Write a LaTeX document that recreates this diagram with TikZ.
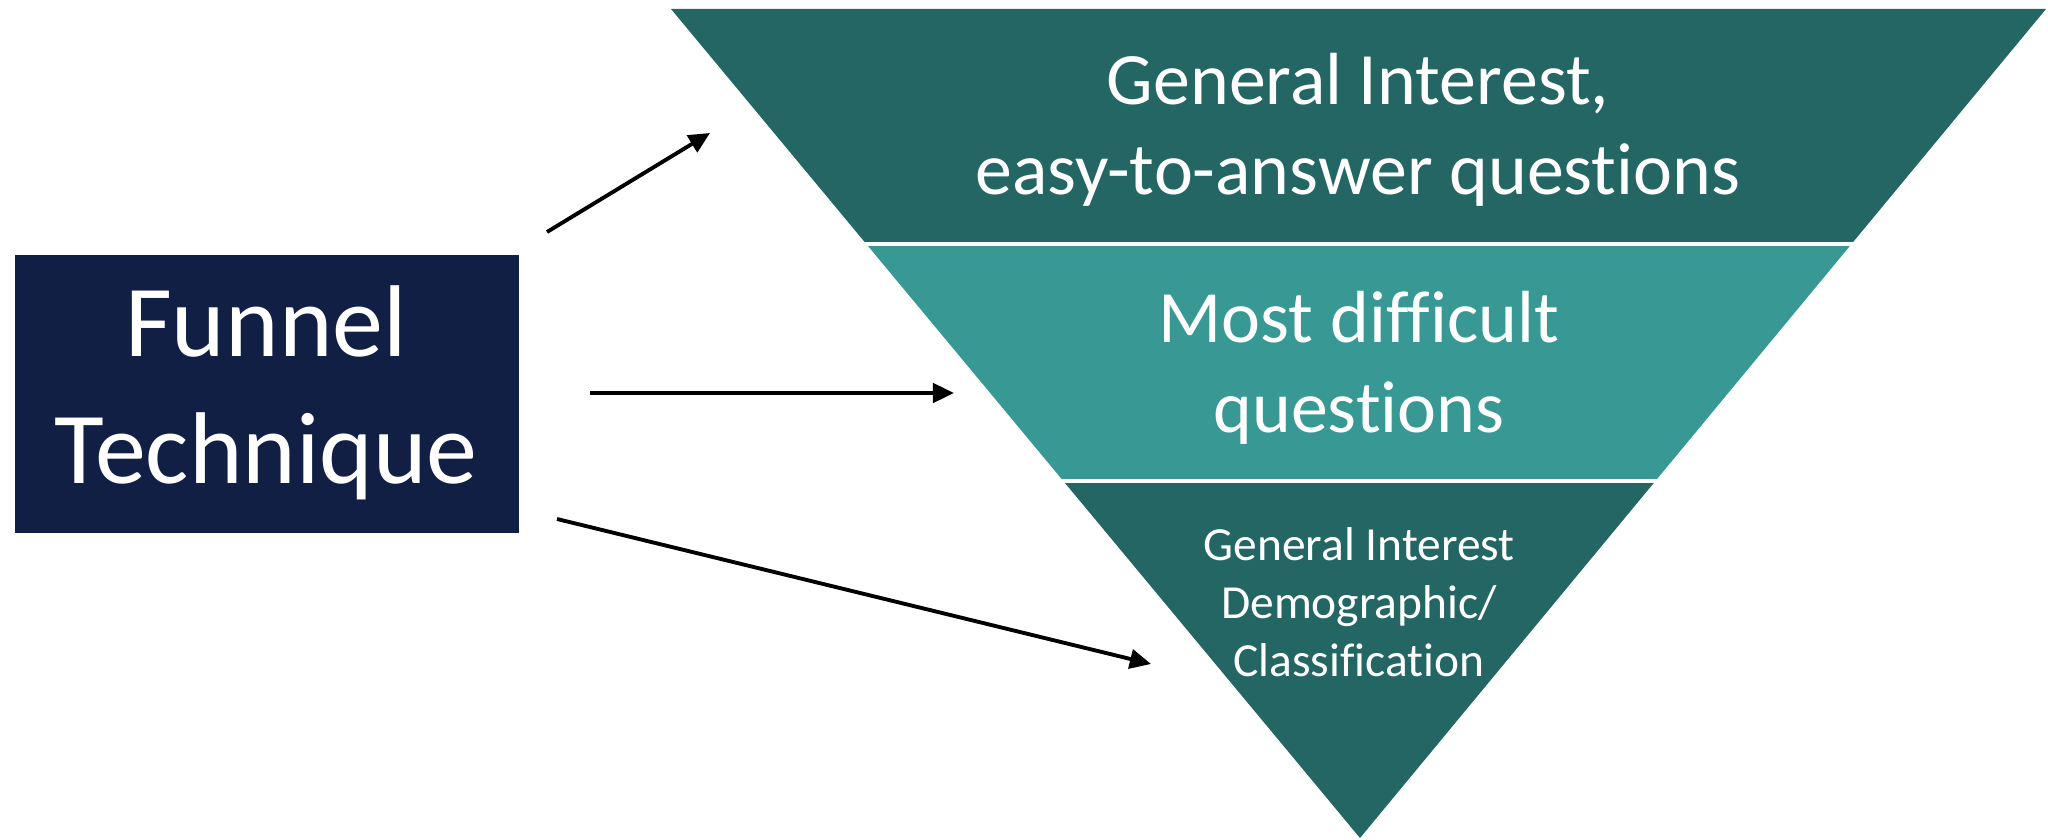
\documentclass[tikz,border=0pt]{standalone}
\usepackage{fontspec}
\setmainfont{Carlito}[Ligatures=CommonOff]
\usetikzlibrary{arrows.meta}
\definecolor{darkteal}{HTML}{246663}
\definecolor{lightteal}{HTML}{389894}
\definecolor{navy}{HTML}{121F45}
\tikzset{
  conn/.style={line width=1.1pt, -{Triangle[length=6pt,width=5.5pt]}},
  bandtext/.style={text=white, align=center, inner sep=0pt},
}
\begin{document}
\begin{tikzpicture}[x=0.01cm,y=-0.01cm]
\useasboundingbox (0,0) rectangle (2048,840);
% funnel bands
\fill[darkteal] (671,9) -- (2046,9) -- (1851.5,244) -- (866.3,244) -- cycle;
\fill[lightteal] (866.3,244) -- (1851.5,244) -- (1655.4,481) -- (1063.3,481) -- cycle;
\fill[darkteal] (1063.3,481) -- (1655.4,481) -- (1360,838) -- cycle;
\draw[white, line width=0.9pt] (860,244) -- (1858,244);
\draw[white, line width=0.9pt] (1058,481) -- (1661,481);
% box
\node[fill=navy, inner sep=0pt, anchor=north west,
      minimum width=5.04cm, minimum height=2.78cm] (box) at (14,254) {};
\node[bandtext, font=\fontsize{29}{36}\selectfont] (boxtext) at (266,393) {Funnel\\Technique};
% band texts
\node[bandtext, font=\fontsize{21}{25.5}\selectfont] (t1) at (1358,130) {General Interest,\\easy-to-answer questions};
\node[bandtext, font=\fontsize{21}{25.5}\selectfont] (t2) at (1359,368) {Most difficult\\questions};
\node[bandtext, font=\fontsize{13.5}{16.5}\selectfont] (t3) at (1359,602) {General Interest\\Demographic/\\Classification};
% connectors
\coordinate (a1s) at (547,232);
\coordinate (a1e) at (710,133);
\coordinate (a2s) at (590,393);
\coordinate (a2e) at (954,393);
\coordinate (a3s) at (557,519);
\coordinate (a3e) at (1151,664);
\draw[conn] (a1s) -- (a1e);
\draw[conn] (a2s) -- (a2e);
\draw[conn] (a3s) -- (a3e);
\end{tikzpicture}
\end{document}
